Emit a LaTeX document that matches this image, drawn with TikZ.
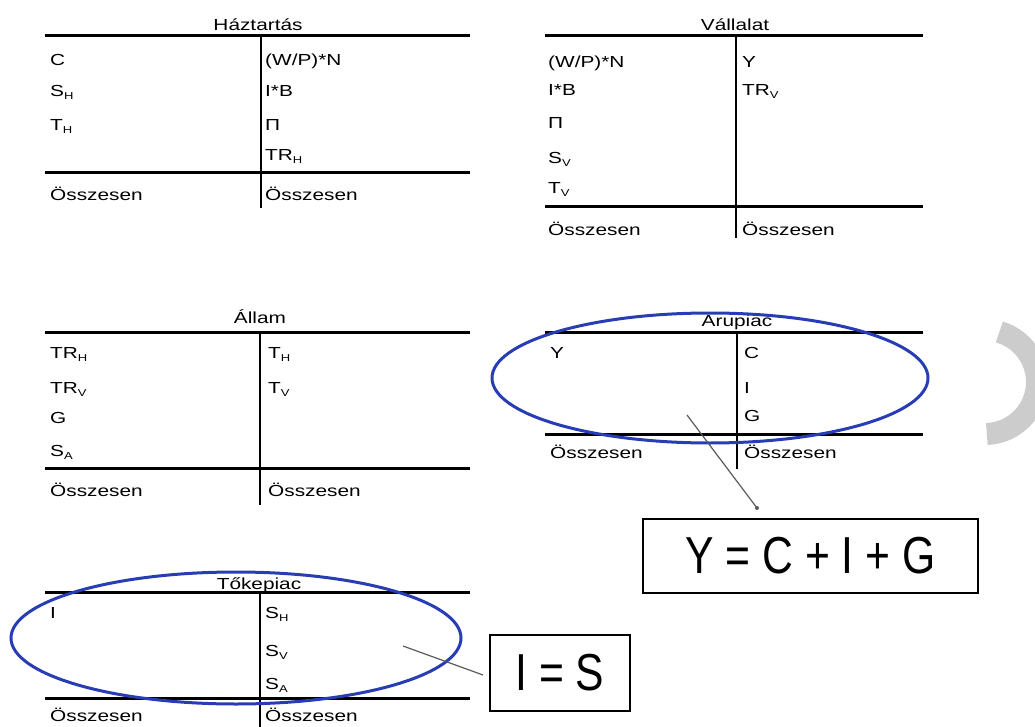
\documentclass[tikz,border=0pt]{standalone}
\usepackage{fontspec}
\setmainfont{Liberation Sans}
\usetikzlibrary{shapes.geometric}
\definecolor{ovalblue}{RGB}{40,60,180}
\definecolor{arcgray}{RGB}{204,204,204}
\definecolor{conngray}{RGB}{90,90,90}
\newcommand\sx[1]{\scalebox{1.3}[1]{#1}}
\newcommand\lsub[1]{\raisebox{-3pt}{\fontsize{10}{10}\selectfont #1}}
\begin{document}
\begin{tikzpicture}[x=1pt,y=-1pt,
  txt/.style={font=\fontsize{16}{18}\selectfont, anchor=base west, inner sep=0pt},
  ttl/.style={font=\fontsize{16}{18}\selectfont, anchor=base, inner sep=0pt},
  hrule/.style={line width=3pt},
  vrule/.style={line width=2.2pt},
  oval/.style={draw=ovalblue, line width=3pt, ellipse, inner sep=0pt},
  eqbox/.style={draw, line width=2.5pt, inner sep=0pt, font=\fontsize{52}{56}\selectfont},
  conn/.style={draw=conngray, line width=1.2pt}]
\useasboundingbox (0,0) rectangle (1035,727);
\clip (0,0) rectangle (1035,727);

% ---------- Haztartas ----------
\node[ttl] (hT) at (258,31) {\sx{Háztartás}};
\draw[hrule] (45,36) -- (470,36);
\draw[hrule] (45,173) -- (470,173);
\draw[vrule] (261,36) -- (261,208);
\node[txt] (hL1) at (50,66) {\sx{C}};
\node[txt] (hL2) at (50,97) {\sx{S\lsub{H}}};
\node[txt] (hL3) at (50,131) {\sx{T\lsub{H}}};
\node[txt] (hR1) at (265,66) {\sx{(W/P)*N}};
\node[txt] (hR2) at (265,97) {\sx{I*B}};
\node[txt] (hR3) at (265,131) {\sx{Π}};
\node[txt] (hR4) at (265,161) {\sx{TR\lsub{H}}};
\node[txt] (hS1) at (50,201) {\sx{Összesen}};
\node[txt] (hS2) at (265,201) {\sx{Összesen}};

% ---------- Vallalat ----------
\node[ttl] (vT) at (735,31) {\sx{Vállalat}};
\draw[hrule] (545,36) -- (923,36);
\draw[hrule] (545,207) -- (923,207);
\draw[vrule] (736,36) -- (736,238);
\node[txt] (vL1) at (548,68) {\sx{(W/P)*N}};
\node[txt] (vL2) at (548,96) {\sx{I*B}};
\node[txt] (vL3) at (548,129) {\sx{Π}};
\node[txt] (vL4) at (548,164) {\sx{S\lsub{V}}};
\node[txt] (vL5) at (548,194) {\sx{T\lsub{V}}};
\node[txt] (vR1) at (742,68) {\sx{Y}};
\node[txt] (vR2) at (742,96) {\sx{TR\lsub{V}}};
\node[txt] (vS1) at (548,236) {\sx{Összesen}};
\node[txt] (vS2) at (742,236) {\sx{Összesen}};

% ---------- Allam ----------
\node[ttl] (aT) at (260,323) {\sx{Állam}};
\draw[hrule] (45,332) -- (470,332);
\draw[hrule] (45,468) -- (470,468);
\draw[vrule] (260,332) -- (260,505);
\node[txt] (aL1) at (50,358) {\sx{TR\lsub{H}}};
\node[txt] (aL2) at (50,393) {\sx{TR\lsub{V}}};
\node[txt] (aL3) at (50,423) {\sx{G}};
\node[txt] (aL4) at (50,456) {\sx{S\lsub{A}}};
\node[txt] (aR1) at (268,358) {\sx{T\lsub{H}}};
\node[txt] (aR2) at (268,393) {\sx{T\lsub{V}}};
\node[txt] (aS1) at (50,496) {\sx{Összesen}};
\node[txt] (aS2) at (268,496) {\sx{Összesen}};

% ---------- Arupiac ----------
\node[ttl] (uT) at (737,326) {\sx{Árupiac}};
\draw[hrule] (545,332) -- (923,332);
\draw[hrule] (545,434) -- (923,434);
\draw[vrule] (737,332) -- (737,469);
\node[txt] (uL1) at (550,358) {\sx{Y}};
\node[txt] (uR1) at (744,358) {\sx{C}};
\node[txt] (uR2) at (744,393) {\sx{I}};
\node[txt] (uR3) at (744,421) {\sx{G}};
\node[txt] (uS1) at (550,458) {\sx{Összesen}};
\node[txt] (uS2) at (744,458) {\sx{Összesen}};
\node[oval, minimum width=436pt, minimum height=130pt] (uO) at (710,378) {};

% ---------- Tokepiac ----------
\node[ttl] (tT) at (259,589) {\sx{Tőkepiac}};
\draw[hrule] (45,592) -- (470,592);
\draw[hrule] (45,698) -- (470,698);
\draw[vrule] (260,592) -- (260,727);
\node[txt] (tL1) at (50,618) {\sx{I}};
\node[txt] (tR1) at (265,618) {\sx{S\lsub{H}}};
\node[txt] (tR2) at (265,656) {\sx{S\lsub{V}}};
\node[txt] (tR3) at (265,689) {\sx{S\lsub{A}}};
\node[txt] (tS1) at (50,721) {\sx{Összesen}};
\node[txt] (tS2) at (265,721) {\sx{Összesen}};
\node[oval, minimum width=450pt, minimum height=132pt] (tO) at (236,638) {};

% ---------- equation boxes ----------
\node[eqbox, minimum width=335pt, minimum height=74pt] (eq1) at (810.5,556) {\scalebox{0.82}[1]{Y = C + I + G}};
\node[eqbox, minimum width=140pt, minimum height=76pt] (eq2) at (560,673) {\scalebox{0.82}[1]{I = S}};

% ---------- connectors ----------
\coordinate (ac1) at (687,415);
\coordinate (ac2) at (757,508);
\draw[conn] (ac1) -- (ac2);
\fill[conngray] (ac2) circle[radius=2pt];
\coordinate (tc1) at (403,646);
\coordinate (tc2) at (483,675);
\draw[conn] (tc1) -- (tc2);

% ---------- grey arc at right edge ----------
\draw[arcgray, line width=22pt] (999.3,332) arc[start angle=-74, end angle=88, radius=52];
\end{tikzpicture}
\end{document}
